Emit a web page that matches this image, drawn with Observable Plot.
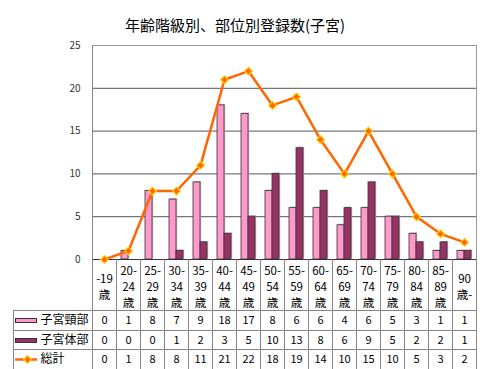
<!DOCTYPE html>
<html><head><meta charset="utf-8">
<script src="https://cdn.jsdelivr.net/npm/d3@7"></script>
<script src="https://cdn.jsdelivr.net/npm/@observablehq/plot@0.6"></script>
<style>
body{margin:0;background:#fff;}
#wrap{position:relative;width:480px;height:369px;overflow:hidden;font-family:"Noto Sans CJK JP",sans-serif;}
#title{position:absolute;left:0;top:16px;width:470px;text-align:center;font-size:15px;line-height:17px;color:#000;}
#chart svg{display:block;}
</style></head>
<body><div id="wrap"><div id="chart"></div><div id="title">年齢階級別、部位別登録数(子宮)</div></div>
<script>
const categories = ["-19歳","20-24歳","25-29歳","30-34歳","35-39歳","40-44歳","45-49歳","50-54歳","55-59歳","60-64歳","65-69歳","70-74歳","75-79歳","80-84歳","85-89歳","90歳-"];
const categoryLabels = ["-19\n歳","20-\n24\n歳","25-\n29\n歳","30-\n34\n歳","35-\n39\n歳","40-\n44\n歳","45-\n49\n歳","50-\n54\n歳","55-\n59\n歳","60-\n64\n歳","65-\n69\n歳","70-\n74\n歳","75-\n79\n歳","80-\n84\n歳","85-\n89\n歳","90\n歳-"];
const cervix = [0,1,8,7,9,18,17,8,6,6,4,6,5,3,1,1];
const corpus = [0,0,0,1,2,3,5,10,13,8,6,9,5,2,2,1];
const total = [0,1,8,8,11,21,22,18,19,14,10,15,10,5,3,2];
const seriesNames = ["子宮頸部","子宮体部","総計"];
const yTicks = [0,5,10,15,20,25];

const rows = categories.map((c,i)=>({cat:c, label:categoryLabels[i], cervix:cervix[i], corpus:corpus[i], total:total[i]}));
const first = categories[0];
const gridC = "#555", frameC = "#999", tableC = "#888";
const rowDy = [61, 81, 100];

const chart = Plot.plot({
  width:480, height:369,
  marginLeft:92, marginRight:4, marginTop:45, marginBottom:110,
  style:{fontFamily:'"Noto Sans CJK JP", sans-serif', background:"transparent", overflow:"visible", color:"#000"},
  x:{type:"band", domain:categories, padding:0, axis:null},
  y:{domain:[0,25], axis:null},
  marks:[
    Plot.frame({stroke:frameC}),
    Plot.ruleY([5,10,15,20], {stroke:gridC, strokeWidth:1}),
    Plot.axisY({ticks:yTicks, tickSize:0, tickPadding:12, fontSize:10, color:"#333", label:null}),
    // bar shadows
    Plot.barY(rows.filter(d=>d.cervix>0), {x:"cat", y:"cervix", fill:"#bbb", insetLeft:5, insetRight:12, dx:1.2, dy:-1}),
    Plot.barY(rows.filter(d=>d.corpus>0), {x:"cat", y:"corpus", fill:"#bbb", insetLeft:12, insetRight:5, dx:1.2, dy:-1}),
    Plot.barY(rows.filter(d=>d.cervix>0), {x:"cat", y:"cervix", fill:"#FF99CC", stroke:"#333", strokeWidth:0.8, insetLeft:5, insetRight:12}),
    Plot.barY(rows.filter(d=>d.corpus>0), {x:"cat", y:"corpus", fill:"#993366", stroke:"#333", strokeWidth:0.8, insetLeft:12, insetRight:5}),
    Plot.ruleY([0], {stroke:"#333"}),
    Plot.line(rows, {x:"cat", y:"total", stroke:"#FF6600", strokeWidth:2.5}),
    Plot.dot(rows, {x:"cat", y:"total", symbol:"diamond2", r:3.5, fill:"#FF6600", stroke:"#FFD000", strokeWidth:1.2}),
    // table lines
    Plot.ruleX(categories, {x:d=>d, dx:12, insetTop:214, insetBottom:-110, stroke:tableC}),
    Plot.ruleX([first], {x:d=>d, dx:-12, insetBottom:-110, stroke:tableC}),
    Plot.ruleX([first], {x:d=>d, dx:-91, insetTop:265, insetBottom:-110, stroke:tableC}),
    Plot.ruleY([0], {dy:51, insetLeft:-79, stroke:tableC}),
    Plot.ruleY([0], {dy:71, insetLeft:-79, stroke:tableC}),
    Plot.ruleY([0], {dy:90, insetLeft:-79, stroke:tableC}),
    // category labels
    Plot.text(rows, {x:"cat", text:"label", frameAnchor:"bottom", lineAnchor:"middle", dy:26, fontSize:11.5, lineHeight:1.4, fill:"#000"}),
    // values
    Plot.text(rows, {x:"cat", text:d=>String(d.cervix), frameAnchor:"bottom", lineAnchor:"middle", dy:rowDy[0], fontSize:11, fill:"#000"}),
    Plot.text(rows, {x:"cat", text:d=>String(d.corpus), frameAnchor:"bottom", lineAnchor:"middle", dy:rowDy[1], fontSize:11, fill:"#000"}),
    Plot.text(rows, {x:"cat", text:d=>String(d.total), frameAnchor:"bottom", lineAnchor:"middle", dy:rowDy[2], fontSize:11, fill:"#000"}),
    // legend swatches
    Plot.ruleY([0], {dy:rowDy[0], insetLeft:-77, insetRight:439, stroke:"#333", strokeWidth:5}),
    Plot.ruleY([0], {dy:rowDy[0], insetLeft:-76, insetRight:440, stroke:"#FF99CC", strokeWidth:3}),
    Plot.ruleY([0], {dy:rowDy[1], insetLeft:-77, insetRight:439, stroke:"#333", strokeWidth:5}),
    Plot.ruleY([0], {dy:rowDy[1], insetLeft:-76, insetRight:440, stroke:"#993366", strokeWidth:3}),
    Plot.ruleY([0], {dy:rowDy[2], insetLeft:-77, insetRight:439, stroke:"#FF6600", strokeWidth:2.5}),
    Plot.dot([first], {x:d=>d, frameAnchor:"bottom", dx:-77, dy:rowDy[2], symbol:"diamond2", r:3.5, fill:"#FF6600", stroke:"#FFD000", strokeWidth:1.2}),
    // legend labels
    ...seriesNames.map((name, i) => Plot.text([name], {x:()=>first, text:d=>d, frameAnchor:"bottom", lineAnchor:"middle", dx:-64, dy:rowDy[i], textAnchor:"start", fontSize:12, fill:"#000"}))
  ]
});
document.getElementById("chart").appendChild(chart);
</script>
</body></html>
